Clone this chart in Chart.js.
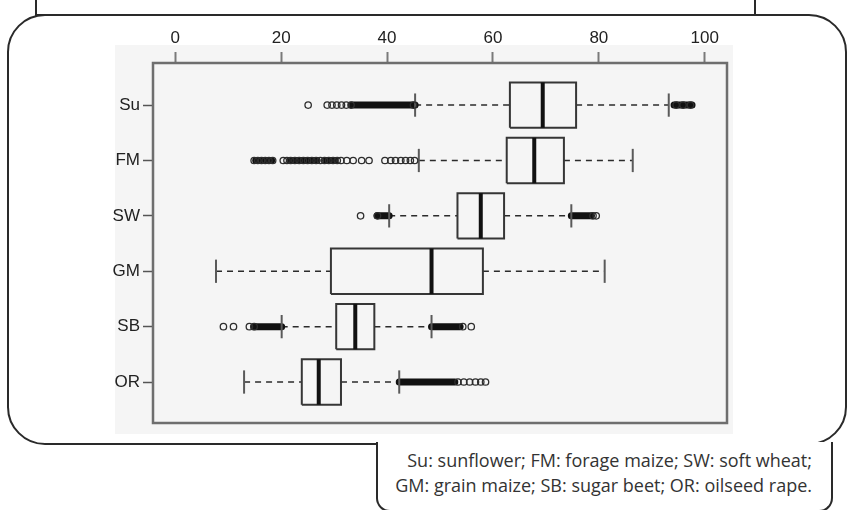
<!DOCTYPE html>
<html>
<head>
<meta charset="utf-8">
<script src="https://cdn.jsdelivr.net/npm/chart.js@4.4.0/dist/chart.umd.min.js"></script>
<style>
  body { margin: 0; background: #fff; }
  #wrap { position: relative; width: 848px; height: 510px; overflow: hidden; background: #fff; }
  #topbox { position: absolute; left: 35px; top: -20px; width: 721px; height: 36px; border: 2px solid #2a2a2a; box-sizing: border-box; }
  #frame { position: absolute; left: 7px; top: 14px; width: 840px; height: 431px; border: 2.5px solid #2a2a2a; border-radius: 38px; box-sizing: border-box; background: #fff; }
  #plotbg { position: absolute; left: 115px; top: 45px; width: 618px; height: 389px; background: #f5f5f5; }
  #legendbox { position: absolute; left: 376px; top: 442px; width: 457px; height: 70px; border: 2px solid #2a2a2a; border-top: none; border-radius: 0 0 14px 14px; box-sizing: border-box; background: #fff; }
  #legendtext { position: absolute; right: 36px; top: 448px; text-align: right; font-family: "Open Sans", "Noto Sans", sans-serif; font-size: 18px; line-height: 25px; color: #333; white-space: nowrap; }
  canvas { position: absolute; left: 0; top: 0; }
</style>
</head>
<body>
<div id="wrap">
  <div id="topbox"></div>
  <div id="frame"></div>
  <div id="plotbg"></div>
  <div id="legendbox"></div>
  <div id="legendtext">Su: sunflower; FM: forage maize; SW: soft wheat;<br>GM: grain maize; SB: sugar beet; OR: oilseed rape.</div>
  <canvas id="boxChart" width="848" height="510"></canvas>
</div>
<script>
// crops, top to bottom
const categories = ['Su', 'FM', 'SW', 'GM', 'SB', 'OR'];
const xTicks = [0, 20, 40, 60, 80, 100];

// box statistics
const whiskerLow  = [45.3, 46.0, 40.4,  7.7, 20.1, 13.0];
const q1          = [63.2, 62.6, 53.3, 29.4, 30.4, 23.9];
const median      = [69.4, 67.8, 57.7, 48.4, 34.0, 27.1];
const q3          = [75.7, 73.4, 62.1, 58.1, 37.6, 31.3];
const whiskerHigh = [93.2, 86.4, 74.8, 81.1, 48.4, 42.3];

// single outliers
const suOutliers = [25.1, 28.7, 29.6, 30.5, 31.4, 32.3, 33.2, 45.0, 94.6, 95.9, 97.3];
const fmOutliers = [14.9, 15.6, 16.3, 17.0, 17.7, 18.4, 20.4, 21.1, 21.8, 22.6, 23.4, 24.2, 25.0,
                    25.8, 26.6, 27.4, 28.2, 29.0, 29.8, 30.6, 31.3, 32.4, 33.6, 35.2, 36.6,
                    39.6, 40.7, 41.6, 42.6, 43.5, 44.4, 45.2];
const swOutliers = [35.0, 38.2, 78.9, 79.5];
const gmOutliers = [];
const sbOutliers = [9.1, 11.0, 14.0, 14.9, 54.3, 55.9];
const orOutliers = [53.4, 54.5, 55.6, 56.7, 57.7, 58.6];

// stretches where outliers overlap into a solid run
const suDense = [[33.3, 45.3], [94.2, 97.6]];
const fmDense = [[15.2, 18.2], [21.6, 26.8], [28.4, 30.2]];
const swDense = [[38.1, 40.4], [74.8, 78.6]];
const gmDense = [];
const sbDense = [[14.8, 20.1], [48.4, 53.8]];
const orDense = [[42.3, 52.8]];

const outliers = [suOutliers, fmOutliers, swOutliers, gmOutliers, sbOutliers, orOutliers];
const dense = [suDense, fmDense, swDense, gmDense, sbDense, orDense];

const boxHalf = 0.41;
const capHalf = 0.21;
const ink = '#2b2b2b';

function rowPos(i) {
  return categories.length - i;
}

function seg(points, extra) {
  return Object.assign({
    data: points,
    showLine: true,
    pointRadius: 0,
    pointHoverRadius: 0,
    fill: false,
    borderColor: ink,
    borderWidth: 1.5
  }, extra);
}

const datasets = [];
categories.forEach((cat, i) => {
  const y = rowPos(i);

  datasets.push(seg([
    { x: q1[i], y: y - boxHalf }, { x: q3[i], y: y - boxHalf },
    { x: q3[i], y: y + boxHalf }, { x: q1[i], y: y + boxHalf },
    { x: q1[i], y: y - boxHalf }
  ], { label: cat + ' box', borderColor: '#363636', borderWidth: 2, borderJoinStyle: 'miter', order: 3 }));

  datasets.push(seg([{ x: median[i], y: y - boxHalf }, { x: median[i], y: y + boxHalf }],
    { label: cat + ' median', borderColor: '#111', borderWidth: 4, order: 2 }));

  datasets.push(seg([{ x: whiskerLow[i], y: y }, { x: q1[i], y: y }],
    { label: cat + ' low', borderDash: [6, 5], order: 4 }));
  datasets.push(seg([{ x: q3[i], y: y }, { x: whiskerHigh[i], y: y }],
    { label: cat + ' high', borderDash: [6, 5], order: 4 }));

  datasets.push(seg([{ x: whiskerLow[i], y: y - capHalf }, { x: whiskerLow[i], y: y + capHalf }],
    { label: cat + ' cap low', borderColor: '#5a5a5a', borderWidth: 2, order: 1 }));
  datasets.push(seg([{ x: whiskerHigh[i], y: y - capHalf }, { x: whiskerHigh[i], y: y + capHalf }],
    { label: cat + ' cap high', borderColor: '#5a5a5a', borderWidth: 2, order: 1 }));

  dense[i].forEach(r => {
    datasets.push(seg([{ x: r[0], y: y }, { x: r[1], y: y }],
      { label: cat + ' dense', borderColor: '#111', borderWidth: 7, borderCapStyle: 'round', order: 1 }));
  });

  datasets.push({
    label: cat + ' outliers',
    data: outliers[i].map(v => ({ x: v, y: y })),
    pointStyle: 'circle',
    pointRadius: 3.2,
    pointHoverRadius: 3.2,
    pointBorderWidth: 1.3,
    pointBorderColor: '#2e2e2e',
    pointBackgroundColor: 'rgba(0,0,0,0)',
    showLine: false,
    order: 0
  });
});

const plotFrame = {
  id: 'plotFrame',
  afterDatasetsDraw(chart) {
    const a = chart.chartArea;
    const ctx = chart.ctx;
    ctx.save();
    ctx.strokeStyle = '#6e6e6e';
    ctx.lineWidth = 2.5;
    ctx.strokeRect(a.left, a.top, a.right - a.left, a.bottom - a.top);
    ctx.restore();
  }
};

const tickFont = { family: '"Liberation Sans", Arial, sans-serif', size: 17 };

new Chart(document.getElementById('boxChart').getContext('2d'), {
  type: 'scatter',
  data: { datasets },
  options: {
    responsive: false,
    animation: false,
    devicePixelRatio: 1,
    layout: { padding: { left: 0, top: 0, right: 121, bottom: 87 } },
    plugins: { legend: { display: false }, tooltip: { enabled: false } },
    scales: {
      x: {
        type: 'linear',
        position: 'top',
        min: -4.2,
        max: 104.2,
        afterBuildTicks: s => { s.ticks = xTicks.map(v => ({ value: v })); },
        afterFit: s => { s.height = 63; },
        border: { display: false },
        grid: { drawOnChartArea: false, drawTicks: true, tickLength: 11, tickColor: '#7a7a7a', tickWidth: 2 },
        ticks: { color: '#222', font: tickFont, padding: 3, maxRotation: 0 }
      },
      y: {
        type: 'linear',
        min: 0.26,
        max: 6.76,
        afterBuildTicks: s => { s.ticks = categories.map((c, i) => ({ value: rowPos(i) })); },
        afterFit: s => { s.width = 153; },
        border: { display: false },
        grid: { drawOnChartArea: false, drawTicks: true, tickLength: 10, tickColor: '#555', tickWidth: 1.5 },
        ticks: {
          color: '#222',
          font: tickFont,
          padding: 3,
          callback: v => categories[categories.length - v]
        }
      }
    }
  },
  plugins: [plotFrame]
});
</script>
</body>
</html>
